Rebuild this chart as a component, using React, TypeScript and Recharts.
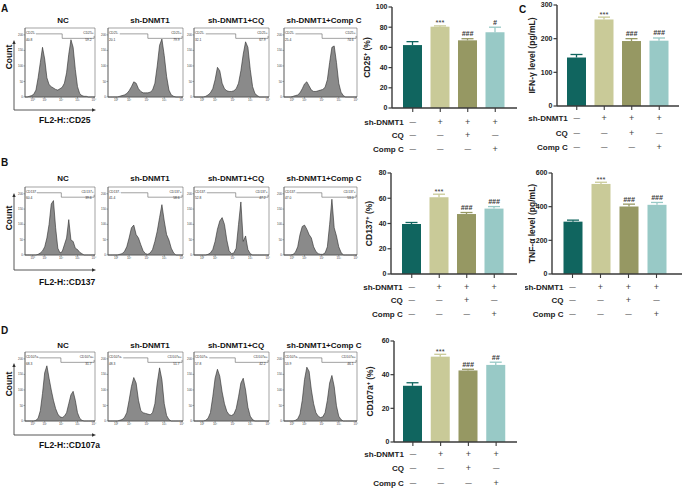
import React from 'react';
import {
  AreaChart,
  Area,
  XAxis,
  YAxis,
  ReferenceLine,
  ReferenceArea,
  Label,
  BarChart,
  Bar,
} from 'recharts';

const FONT = "'Liberation Sans', Arial, Helvetica, sans-serif";

// ---------------- data ----------------
const groups = ['NC', 'sh-DNMT1', 'sh-DNMT1+CQ', 'sh-DNMT1+Comp C'];
const treatRows = ['sh-DNMT1', 'CQ', 'Comp C'];
const shDNMT1Signs = ['—', '+', '+', '+'];
const cqSigns = ['—', '—', '+', '—'];
const compCSigns = ['—', '—', '—', '+'];

// histogram counts (fraction of full scale), 33 bins along the log axis
const cd25NC = [0, 0, 0.01, 0.02, 0.04, 0.1, 0.28, 0.5, 0.72, 0.55, 0.28, 0.18, 0.15, 0.13, 0.11, 0.1, 0.12, 0.14, 0.2, 0.35, 0.62, 0.83, 0.72, 0.4, 0.15, 0.05, 0.02, 0.01, 0.01, 0, 0, 0, 0];
const cd25Sh = [0, 0, 0, 0, 0, 0.01, 0.02, 0.03, 0.05, 0.09, 0.15, 0.22, 0.2, 0.12, 0.08, 0.06, 0.06, 0.06, 0.07, 0.1, 0.2, 0.45, 0.75, 0.84, 0.6, 0.3, 0.1, 0.03, 0.01, 0, 0, 0, 0];
const cd25CQ = [0, 0, 0, 0, 0, 0.01, 0.03, 0.06, 0.12, 0.25, 0.43, 0.38, 0.2, 0.12, 0.09, 0.08, 0.08, 0.09, 0.12, 0.2, 0.38, 0.62, 0.8, 0.72, 0.4, 0.15, 0.05, 0.02, 0, 0, 0, 0, 0];
const cd25Comp = [0, 0, 0, 0, 0.01, 0.02, 0.03, 0.06, 0.12, 0.19, 0.22, 0.16, 0.1, 0.08, 0.08, 0.09, 0.1, 0.11, 0.14, 0.25, 0.5, 0.72, 0.74, 0.5, 0.2, 0.07, 0.02, 0, 0, 0, 0, 0, 0];

const cd137NC = [0, 0, 0, 0, 0, 0, 0.01, 0.03, 0.06, 0.12, 0.25, 0.45, 0.75, 0.8, 0.4, 0.1, 0.03, 0.05, 0.15, 0.25, 0.52, 0.22, 0.2, 0.1, 0.08, 0.04, 0.02, 0, 0, 0, 0, 0, 0];
const cd137Sh = [0, 0, 0, 0, 0, 0.01, 0.02, 0.05, 0.12, 0.25, 0.4, 0.44, 0.3, 0.25, 0.15, 0.06, 0.02, 0.01, 0.03, 0.08, 0.2, 0.35, 0.55, 0.74, 0.5, 0.3, 0.22, 0.1, 0.03, 0, 0, 0, 0];
const cd137CQ = [0, 0, 0, 0, 0, 0, 0.01, 0.03, 0.08, 0.2, 0.38, 0.5, 0.55, 0.45, 0.22, 0.06, 0.02, 0.03, 0.1, 0.45, 0.78, 0.2, 0.28, 0.08, 0.02, 0, 0, 0, 0, 0, 0, 0, 0];
const cd137Comp = [0, 0, 0, 0, 0.01, 0.04, 0.12, 0.3, 0.42, 0.44, 0.38, 0.3, 0.25, 0.12, 0.05, 0.02, 0.01, 0.01, 0.03, 0.12, 0.45, 0.82, 0.4, 0.28, 0.12, 0.04, 0, 0, 0, 0, 0, 0, 0];

const cd107NC = [0, 0, 0, 0, 0, 0.01, 0.04, 0.15, 0.4, 0.7, 0.8, 0.62, 0.45, 0.3, 0.18, 0.1, 0.06, 0.05, 0.07, 0.12, 0.25, 0.38, 0.43, 0.3, 0.12, 0.04, 0.01, 0, 0, 0, 0, 0, 0];
const cd107Sh = [0, 0, 0, 0, 0, 0.01, 0.02, 0.05, 0.12, 0.3, 0.5, 0.63, 0.55, 0.3, 0.15, 0.12, 0.11, 0.1, 0.09, 0.12, 0.25, 0.55, 0.77, 0.6, 0.25, 0.08, 0.02, 0, 0, 0, 0, 0, 0];
const cd107CQ = [0, 0, 0, 0, 0, 0.01, 0.04, 0.12, 0.35, 0.62, 0.75, 0.65, 0.42, 0.25, 0.14, 0.09, 0.08, 0.1, 0.18, 0.35, 0.55, 0.62, 0.45, 0.2, 0.07, 0.02, 0, 0, 0, 0, 0, 0, 0];
const cd107Comp = [0, 0, 0, 0, 0, 0.01, 0.03, 0.1, 0.3, 0.6, 0.78, 0.72, 0.45, 0.25, 0.12, 0.07, 0.05, 0.06, 0.12, 0.3, 0.55, 0.66, 0.5, 0.22, 0.07, 0.02, 0, 0, 0, 0, 0, 0, 0];

const cd25NegPct = ['40.8', '20.1', '32.1', '25.4'];
const cd25PosPct = ['59.2', '79.9', '67.9', '74.6'];
const cd137NegPct = ['60.4', '41.4', '52.8', '47.0'];
const cd137PosPct = ['39.6', '58.6', '47.2', '53.0'];
const cd107NegPct = ['68.3', '48.3', '57.8', '53.9'];
const cd107PosPct = ['31.7', '51.7', '42.2', '46.1'];

const cd25Gates = [17, 17, 17.8, 16.7];
const cd137Gates = [16.6, 17, 17.8, 16.6];
const cd107Gates = [16.4, 17, 17.6, 16.6];

const histXTicks = [3.5, 9, 16.5, 24, 31.5];
const histXLabels = ['10⁰', '10¹', '10²', '10³', '10⁴'];
const histYTicks = [0, 0.225, 0.45, 0.675, 0.9];
const histYLabels = ['0', '50', '100', '150', '200'];

// bar charts
const cd25Mean = [62.3, 80.5, 67, 75];
const cd25Sem = [3.4, 0.8, 1.6, 5];
const cd25Sig = ['', '***', '###', '#'];
const ifnMean = [144, 257, 193, 194];
const ifnSem = [9, 7, 7, 8];
const ifnSig = ['', '***', '###', '###'];
const cd137Mean = [39.6, 60.8, 47.5, 51.8];
const cd137Sem = [1.2, 2.4, 1.2, 1.6];
const cd137Sig = ['', '***', '###', '###'];
const tnfMean = [311, 535, 401, 411];
const tnfSem = [9, 10, 14, 14];
const tnfSig = ['', '***', '###', '###'];
const cd107Mean = [33.4, 50.7, 42.5, 45.8];
const cd107Sem = [1.8, 1.4, 0.7, 1.6];
const cd107Sig = ['', '***', '###', '##'];

const barColors = ['#10655f', '#c9ca98', '#969863', '#98c9c6'];

// ---------------- histogram ----------------
type HistProps = {
  values: number[];
  x0: number;
  x1: number;
  top: number;
  bottom: number;
  split: number;
  lineStart: number;
  neg: string;
  pos: string;
  negPct: string;
  posPct: string;
};

function Histogram(p: HistProps) {
  const yW = 9;
  const xH = 8;
  const data = p.values.map((v, i) => ({ i, v }));
  const tickStyle = { fontSize: 3, fill: '#444', fontFamily: FONT };
  const lab = { fontSize: 3.3, fill: '#333', fontFamily: FONT };
  return (
    <div style={{ position: 'absolute', left: p.x0 - yW, top: p.top - 1 }}>
      <AreaChart
        width={p.x1 - p.x0 + yW + 2}
        height={p.bottom - p.top + xH + 1}
        data={data}
        margin={{ top: 1, right: 2, bottom: 0, left: 0 }}
      >
        <XAxis
          dataKey="i"
          type="number"
          domain={[0, 32]}
          ticks={histXTicks}
          tickFormatter={(_v: number, idx: number) => histXLabels[idx]}
          interval={0}
          height={xH}
          tickSize={1.5}
          tickMargin={0.5}
          tick={tickStyle}
          axisLine={{ stroke: '#555', strokeWidth: 0.6 }}
          tickLine={{ stroke: '#555', strokeWidth: 0.5 }}
        />
        <YAxis
          type="number"
          domain={[0, 1]}
          ticks={histYTicks}
          tickFormatter={(_v: number, idx: number) => histYLabels[idx]}
          interval={0}
          width={yW}
          tickSize={1.5}
          tickMargin={0.5}
          tick={tickStyle}
          axisLine={{ stroke: '#555', strokeWidth: 0.6 }}
          tickLine={{ stroke: '#555', strokeWidth: 0.5 }}
        />
        <Area
          type="linear"
          dataKey="v"
          stroke="#2a2a2a"
          strokeWidth={0.6}
          fill="#8a8a8a"
          fillOpacity={1}
          isAnimationActive={false}
          dot={false}
          activeDot={false}
        />
        <ReferenceArea x1={0} x2={32} y1={0} y2={1} fill="none" stroke="#666" strokeWidth={0.6} />
        <ReferenceLine segment={[{ x: p.lineStart, y: 0.915 }, { x: p.split, y: 0.915 }]} stroke="#444" strokeWidth={0.5} />
        <ReferenceLine segment={[{ x: p.split, y: 0.915 }, { x: p.split, y: 0.85 }]} stroke="#444" strokeWidth={0.5} />
        <ReferenceLine segment={[{ x: p.split, y: 0.85 }, { x: 31.6, y: 0.85 }]} stroke="#444" strokeWidth={0.5} />
        <ReferenceLine segment={[{ x: 31.6, y: 0.885 }, { x: 31.6, y: 0.85 }]} stroke="#444" strokeWidth={0.5} />
        <ReferenceLine segment={[{ x: 0.4, y: 0.935 }, { x: 31.4, y: 0.935 }]} stroke="none">
          <Label value={p.neg} position="insideLeft" offset={0} {...lab} />
          <Label value={p.pos} position="insideRight" offset={0} {...lab} />
        </ReferenceLine>
        <ReferenceLine segment={[{ x: 0.4, y: 0.835 }, { x: 31.4, y: 0.835 }]} stroke="none">
          <Label value={p.negPct} position="insideLeft" offset={0} {...lab} />
          <Label value={p.posPct} position="insideRight" offset={2} {...lab} />
        </ReferenceLine>
      </AreaChart>
    </div>
  );
}

const boxesX = [
  [25, 95],
  [108, 183],
  [194, 269],
  [284, 357],
];

const histRows = [
  { top: 28, bottom: 97, neg: 'CD25-', pos: 'CD25+', negPct: cd25NegPct, posPct: cd25PosPct, series: [cd25NC, cd25Sh, cd25CQ, cd25Comp], gates: cd25Gates, lineStart: 5 },
  { top: 187, bottom: 255, neg: 'CD137-', pos: 'CD137+', negPct: cd137NegPct, posPct: cd137PosPct, series: [cd137NC, cd137Sh, cd137CQ, cd137Comp], gates: cd137Gates, lineStart: 5.5 },
  { top: 352, bottom: 421, neg: 'CD107a-', pos: 'CD107a+', negPct: cd107NegPct, posPct: cd107PosPct, series: [cd107NC, cd107Sh, cd107CQ, cd107Comp], gates: cd107Gates, lineStart: 6.5 },
];

// ---------------- bar chart ----------------
function BarWithError(props: any) {
  const { x, y, width, height, payload } = props;
  const idx = typeof props.index === 'number' ? props.index : groups.indexOf(payload.group);
  const color = barColors[idx % 4];
  const k = payload.value ? height / payload.value : 0;
  const eTop = y - payload.sem * k;
  const cx = x + width / 2;
  const isHash = payload.sig && payload.sig[0] === '#';
  return (
    <g>
      <rect x={x} y={y} width={width} height={height} fill={color} />
      <line x1={cx} x2={cx} y1={y} y2={eTop} stroke={color} strokeWidth={1.3} />
      <line x1={cx - 6} x2={cx + 6} y1={eTop} y2={eTop} stroke={color} strokeWidth={1.3} />
      {payload.sig ? (
        <text
          x={cx}
          y={isHash ? eTop - 2.5 : eTop - 0.5}
          textAnchor="middle"
          fontSize={isHash ? 7 : 7.5}
          fontStyle={isHash ? 'italic' : 'normal'}
          fontWeight={isHash ? 600 : 400}
          fontFamily={FONT}
          fill="#333"
        >
          {payload.sig}
        </text>
      ) : null}
    </g>
  );
}

type BarPanelProps = {
  left: number;
  top: number;
  width: number;
  height: number;
  plotLeft: number;
  plotTop: number;
  plotBottom: number;
  plotRight: number;
  padL: number;
  padR: number;
  max: number;
  ticks: number[];
  mean: number[];
  sem: number[];
  sig: string[];
  rowY: number[];
  labelX: number;
  labelMain: string;
  labelSup: string;
  labelRest: string;
};

function BarPanel(p: BarPanelProps) {
  const data = groups.map((g, i) => ({ group: g, value: p.mean[i], sem: p.sem[i], sig: p.sig[i] }));
  const yW = 25;
  const margin = {
    top: p.plotTop - p.top,
    left: p.plotLeft - p.left - yW,
    right: p.left + p.width - p.plotRight,
    bottom: 0,
  };
  const xH = p.top + p.height - p.plotBottom;
  const rows = [shDNMT1Signs, cqSigns, compCSigns];
  const labelCx = p.labelX - p.left;
  const labelCy = (p.plotTop + p.plotBottom) / 2 - p.top;

  const renderTick = (tp: any) => {
    const { x, index } = tp;
    return (
      <g>
        {rows.map((r, k) => {
          const yy = p.rowY[k] - p.top;
          const s = r[index];
          return (
            <g key={k}>
              {index === 0 ? (
                <text x={x - 9} y={yy + 3} textAnchor="end" fontSize={8} fontWeight={700} fontFamily={FONT} fill="#222">
                  {treatRows[k]}
                </text>
              ) : null}
              <text
                x={x}
                y={s === '+' ? yy + 3.2 : yy + 2.3}
                textAnchor="middle"
                fontSize={s === '+' ? 9 : 6.5}
                fontFamily={FONT}
                fill="#444"
              >
                {s}
              </text>
            </g>
          );
        })}
      </g>
    );
  };

  const renderYLabel = () => (
    <text
      transform={`translate(${labelCx},${labelCy}) rotate(-90)`}
      textAnchor="middle"
      fontSize={8.5}
      fontWeight={700}
      fontFamily={FONT}
      fill="#222"
    >
      {p.labelMain}
      {p.labelSup ? (
        <tspan dy={-3} fontSize={5.5}>
          {p.labelSup}
        </tspan>
      ) : null}
      <tspan dy={p.labelSup ? 3 : 0}>{p.labelRest}</tspan>
    </text>
  );

  return (
    <div style={{ position: 'absolute', left: p.left, top: p.top }}>
      <BarChart width={p.width} height={p.height} data={data} margin={margin} barSize={19}>
        <YAxis
          width={yW}
          type="number"
          domain={[0, p.max]}
          ticks={p.ticks}
          interval={0}
          allowDataOverflow
          tickSize={3.5}
          tickMargin={1}
          tick={{ fontSize: 7, fontWeight: 700, fill: '#222', fontFamily: FONT }}
          axisLine={{ stroke: '#3a3a3a', strokeWidth: 1.4 }}
          tickLine={{ stroke: '#3a3a3a', strokeWidth: 1.2 }}
          label={{ content: renderYLabel }}
        />
        <XAxis
          dataKey="group"
          type="category"
          height={xH}
          padding={{ left: p.padL, right: p.padR }}
          interval={0}
          tickSize={4}
          tickMargin={0}
          tick={renderTick}
          axisLine={{ stroke: '#3a3a3a', strokeWidth: 1.4 }}
          tickLine={{ stroke: '#3a3a3a', strokeWidth: 1.1 }}
        />
        <Bar dataKey="value" isAnimationActive={false} shape={(sp: any) => <BarWithError {...sp} />} />
      </BarChart>
    </div>
  );
}

// ---------------- static annotations ----------------
const titleX = [63, 150, 236, 324];
const titleY = [23, 181, 348];
const outer = [
  { yTop: 40, yAxis: 110, countY: 57, labelY: 123, label: 'FL2-H::CD25' },
  { yTop: 193, yAxis: 270, countY: 218, labelY: 285, label: 'FL2-H::CD137' },
  { yTop: 363, yAxis: 435, countY: 384, labelY: 448, label: 'FL2-H::CD107a' },
];
const panelLetters = [
  { t: 'A', x: 1, y: 12 },
  { t: 'B', x: 1, y: 166 },
  { t: 'C', x: 519, y: 13 },
  { t: 'D', x: 1, y: 334 },
];

function Overlay() {
  return (
    <svg width={685} height={489} style={{ position: 'absolute', left: 0, top: 0, pointerEvents: 'none' }}>
      {panelLetters.map((l) => (
        <text key={l.t} x={l.x} y={l.y} fontSize={10} fontWeight={700} fontFamily={FONT} fill="#111">
          {l.t}
        </text>
      ))}
      {titleY.map((ty, r) =>
        groups.map((g, i) => (
          <text key={`${r}-${i}`} x={titleX[i]} y={ty} textAnchor="middle" fontSize={8} fontWeight={700} fontFamily={FONT} fill="#111">
            {g}
          </text>
        ))
      )}
      {outer.map((o, i) => (
        <g key={i}>
          <line x1={14} x2={14} y1={o.yAxis} y2={o.yTop + 3} stroke="#444" strokeWidth={0.9} />
          <polygon points={`${12.3},${o.yTop + 4} ${15.7},${o.yTop + 4} 14,${o.yTop}`} fill="#333" />
          <line x1={14} x2={93} y1={o.yAxis} y2={o.yAxis} stroke="#444" strokeWidth={0.9} />
          <polygon points={`${92},${o.yAxis - 1.7} ${92},${o.yAxis + 1.7} 96,${o.yAxis}`} fill="#333" />
          <text
            transform={`translate(12,${o.countY}) rotate(-90)`}
            textAnchor="middle"
            fontSize={8.5}
            fontWeight={700}
            fontFamily={FONT}
            fill="#111"
          >
            Count
          </text>
          <text x={39} y={o.labelY} fontSize={8.5} fontWeight={700} fontFamily={FONT} fill="#111">
            {o.label}
          </text>
        </g>
      ))}
    </svg>
  );
}

export default function App() {
  return (
    <div
      style={{
        position: 'absolute',
        left: 0,
        top: 0,
        width: 685,
        height: 489,
        background: '#fff',
        overflow: 'hidden',
        fontFamily: FONT,
      }}
    >
      {histRows.map((row, r) =>
        row.series.map((vals, i) => (
          <Histogram
            key={`${r}-${i}`}
            values={vals}
            x0={boxesX[i][0]}
            x1={boxesX[i][1]}
            top={row.top}
            bottom={row.bottom}
            split={row.gates[i]}
            lineStart={row.lineStart}
            neg={row.neg}
            pos={row.pos}
            negPct={row.negPct[i]}
            posPct={row.posPct[i]}
          />
        ))
      )}
      <BarPanel
        left={345} top={0} width={180} height={160}
        plotLeft={392} plotTop={7} plotBottom={108} plotRight={517}
        padL={7} padR={8} max={100} ticks={[0, 20, 40, 60, 80, 100]}
        mean={cd25Mean} sem={cd25Sem} sig={cd25Sig}
        rowY={[122, 135, 149]} labelX={370}
        labelMain="CD25" labelSup="+" labelRest=" (%)"
      />
      <BarPanel
        left={525} top={0} width={160} height={160}
        plotLeft={557} plotTop={5} plotBottom={106} plotRight={679}
        padL={6} padR={6} max={300} ticks={[0, 100, 200, 300]}
        mean={ifnMean} sem={ifnSem} sig={ifnSig}
        rowY={[118, 133, 147]} labelX={535}
        labelMain="IFN-γ level (pg/mL)" labelSup="" labelRest=""
      />
      <BarPanel
        left={345} top={165} width={180} height={160}
        plotLeft={391} plotTop={173} plotBottom={274} plotRight={517}
        padL={7} padR={9} max={80} ticks={[0, 20, 40, 60, 80]}
        mean={cd137Mean} sem={cd137Sem} sig={cd137Sig}
        rowY={[287, 300, 314]} labelX={372}
        labelMain="CD137" labelSup="+" labelRest=" (%)"
      />
      <BarPanel
        left={525} top={165} width={160} height={160}
        plotLeft={552} plotTop={173} plotBottom={274} plotRight={682}
        padL={6.5} padR={11.5} max={600} ticks={[0, 200, 400, 600]}
        mean={tnfMean} sem={tnfSem} sig={tnfSig}
        rowY={[287, 300, 314]} labelX={535}
        labelMain="TNF-α level (pg/mL)" labelSup="" labelRest=""
      />
      <BarPanel
        left={345} top={330} width={180} height={159}
        plotLeft={394} plotTop={341} plotBottom={442} plotRight={517}
        padL={5} padR={7} max={60} ticks={[0, 20, 40, 60]}
        mean={cd107Mean} sem={cd107Sem} sig={cd107Sig}
        rowY={[454, 468, 483]} labelX={373}
        labelMain="CD107a" labelSup="+" labelRest=" (%)"
      />
      <Overlay />
    </div>
  );
}
